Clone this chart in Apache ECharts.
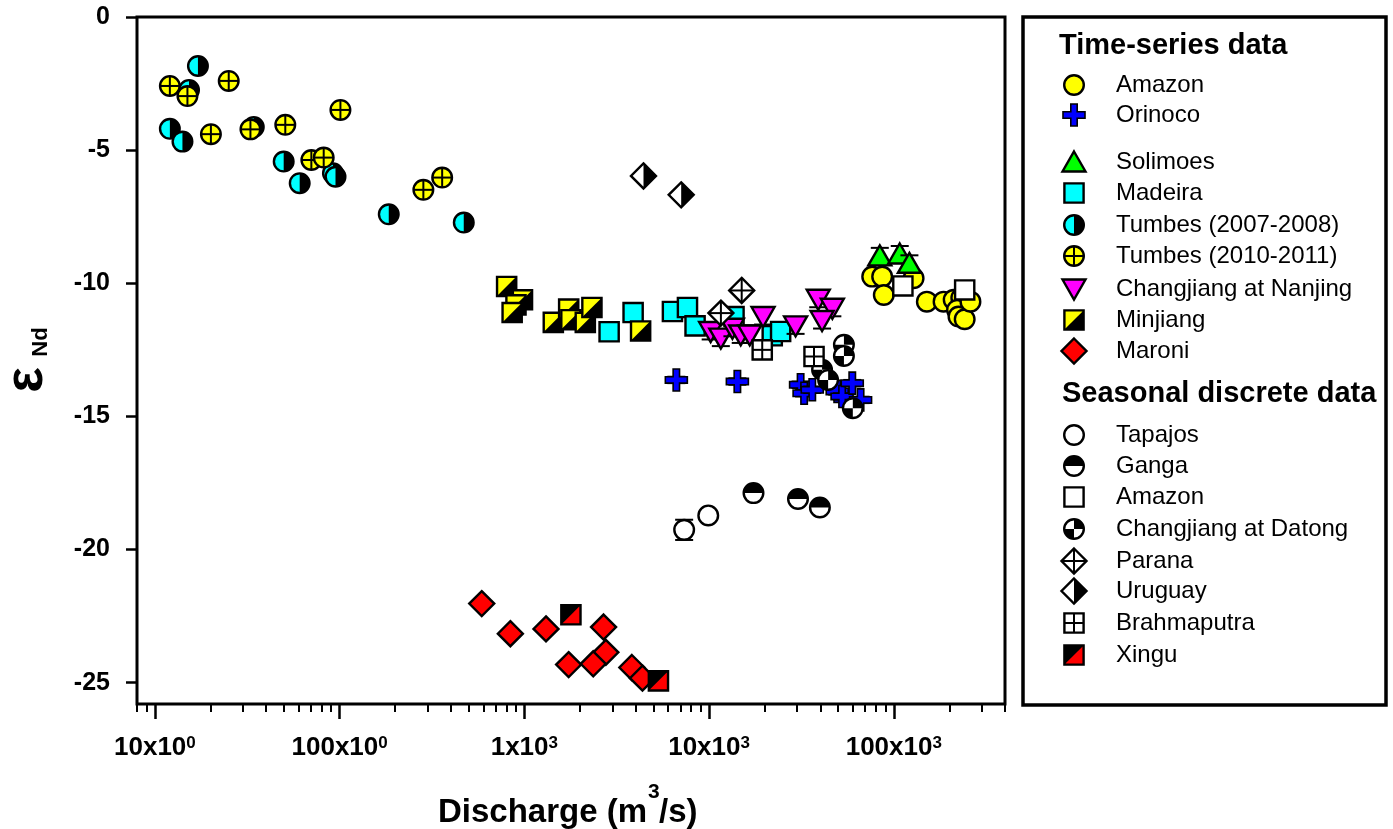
<!DOCTYPE html>
<html><head><meta charset="utf-8">
<script src="https://cdn.jsdelivr.net/npm/echarts@6/dist/echarts.min.js"></script>
<style>html,body{margin:0;padding:0;background:#fff}#c{width:1393px;height:829px}</style>
</head><body><div id="c"></div>
<script>
const FONT = '"Liberation Sans", Arial, Helvetica, sans-serif';

// ---- tick labels ----
const xTickValues = [10, 100, 1000, 10000, 100000];
const xTickLabels = [['10x10', '0'], ['100x10', '0'], ['1x10', '3'], ['10x10', '3'], ['100x10', '3']];
const yTickValues = [0, -5, -10, -15, -20, -25];

// ---- data: [discharge m3/s, eNd, (error)] ----
const amazon = [[76400,-9.75],[86500,-9.75],[88300,-10.44],[128000,-9.81],[151000,-10.69],[186000,-10.69],[211000,-10.62],[232000,-10.55],[220000,-11.0],[224000,-11.25],[242000,-11.35],[260000,-10.69]];
const orinoco = [[6650,-13.63,0.12],[14230,-13.69,0.12],[31300,-13.81,0.12],[32700,-14.13,0.12],[36200,-14.0,0.12],[49400,-14.06,0.12],[52500,-14.25,0.12],[59600,-13.75,0.12],[66100,-14.38,0.12]];
const solimoes = [[84000,-8.97,0.3],[107700,-8.9,0.3],[121500,-9.25,0.3]];
const madeira = [[2877,-11.82],[3880,-11.1],[6335,-11.06],[7640,-10.91],[8400,-11.6],[13650,-11.25],[21980,-11.97],[24400,-11.81]];
const tumbes0708 = [[17.1,-1.84],[12.05,-4.2],[14.1,-4.68],[15.3,-2.74],[34.3,-4.13],[49.8,-5.43],[60.8,-6.24],[92,-5.87],[95,-6.0],[184.5,-7.41],[470,-7.72]];
const tumbes1011 = [[12.05,-2.59],[15.0,-2.97],[25.1,-2.4],[20.1,-4.4],[32.9,-4.22],[50.8,-4.05],[70.3,-5.37],[82,-5.28],[101,-3.49],[284,-6.49],[359,-6.03]];
const nanjing = [[10200,-11.81,0.3],[11580,-12.06,0.3],[13380,-11.69,0.3],[14840,-11.94,0.3],[16600,-11.94,0.3],[19600,-11.25,0.3],[29400,-11.6,0.3],[39000,-10.6,0.3],[46500,-10.94,0.3],[40900,-11.4,0.3]];
const minjiang = [[802,-10.12],[977,-10.62],[901,-10.81],[859,-11.1],[1435,-11.47],[1738,-10.97],[1787,-11.37],[2138,-11.47],[2322,-10.91],[4260,-11.79]];
const maroni = [[588,-22.03],[840,-23.16],[1310,-22.98],[1737,-24.32],[2685,-22.91],[2762,-23.86],[2360,-24.29],[3820,-24.43],[4360,-24.83]];
const tapajos = [[7330,-19.26,0.38],[9900,-18.72]];
const ganga = [[17400,-17.88],[30300,-18.1],[39800,-18.42]];
const amazonSeasonal = [[112000,-10.1],[242000,-10.25]];
const datong = [[53700,-12.31],[53700,-12.73],[40900,-13.25],[44100,-13.63],[60000,-14.69]];
const parana = [[15020,-10.27],[11590,-11.12]];
const uruguay = [[4415,-5.97],[7065,-6.68]];
const brahmaputra = [[19400,-12.5],[37000,-12.75]];
const xingu = [[1787,-22.45],[5320,-24.93]];

// ---- symbol styles ----
const K = '#000', W = '#fff', LW = 2.4;
const specs = {
  'Amazon': {shape:'circle', fill:'#ffff00'},
  'Orinoco': {shape:'plus', fill:'#0000ff'},
  'Solimoes': {shape:'triUp', fill:'#00ff00'},
  'Madeira': {shape:'square', fill:'#00ffff'},
  'Tumbes (2007-2008)': {shape:'circleLR', a:'#00ffff', b:K},
  'Tumbes (2010-2011)': {shape:'circleCross', fill:'#ffff00'},
  'Changjiang at Nanjing': {shape:'triDown', fill:'#ff00ff'},
  'Minjiang': {shape:'squareDiag', a:'#ffff00', b:K},
  'Maroni': {shape:'diamond', fill:'#ff0000'},
  'Tapajos': {shape:'circle', fill:W},
  'Ganga': {shape:'circleTB', a:K, b:W},
  'Amazon ': {shape:'square', fill:W},
  'Changjiang at Datong': {shape:'circleQuad'},
  'Parana': {shape:'diamondCross', fill:W},
  'Uruguay': {shape:'diamondLR', a:W, b:K},
  'Brahmaputra': {shape:'squareCross', fill:W},
  'Xingu': {shape:'squareDiag', a:K, b:'#ff0000'}
};

function ln(x1, y1, x2, y2, w) {
  return {type:'line', shape:{x1, y1, x2, y2}, style:{stroke:K, lineWidth:w || LW, fill:null}};
}
function drawSymbol(spec, x, y) {
  const out = [];
  const r = 9.8, h = 9.6, R = 12.5;
  const st = (fill) => ({fill, stroke:K, lineWidth:LW});
  switch (spec.shape) {
    case 'circle':
      out.push({type:'circle', shape:{cx:x, cy:y, r}, style:st(spec.fill)}); break;
    case 'circleLR':
      out.push({type:'circle', shape:{cx:x, cy:y, r}, style:{fill:spec.a}});
      out.push({type:'sector', shape:{cx:x, cy:y, r0:0, r, startAngle:-Math.PI/2, endAngle:Math.PI/2, clockwise:true}, style:{fill:spec.b}});
      out.push({type:'circle', shape:{cx:x, cy:y, r}, style:{fill:null, stroke:K, lineWidth:LW}}); break;
    case 'circleTB':
      out.push({type:'circle', shape:{cx:x, cy:y, r}, style:{fill:spec.b}});
      out.push({type:'sector', shape:{cx:x, cy:y, r0:0, r, startAngle:Math.PI, endAngle:2*Math.PI, clockwise:true}, style:{fill:spec.a}});
      out.push({type:'circle', shape:{cx:x, cy:y, r}, style:{fill:null, stroke:K, lineWidth:LW}}); break;
    case 'circleQuad':
      out.push({type:'circle', shape:{cx:x, cy:y, r}, style:{fill:W}});
      out.push({type:'sector', shape:{cx:x, cy:y, r0:0, r, startAngle:-Math.PI/2, endAngle:0, clockwise:true}, style:{fill:K}});
      out.push({type:'sector', shape:{cx:x, cy:y, r0:0, r, startAngle:Math.PI/2, endAngle:Math.PI, clockwise:true}, style:{fill:K}});
      out.push({type:'circle', shape:{cx:x, cy:y, r}, style:{fill:null, stroke:K, lineWidth:LW}}); break;
    case 'circleCross':
      out.push({type:'circle', shape:{cx:x, cy:y, r}, style:{fill:spec.fill}});
      out.push(ln(x - r, y, x + r, y, 2), ln(x, y - r, x, y + r, 2));
      out.push({type:'circle', shape:{cx:x, cy:y, r}, style:{fill:null, stroke:K, lineWidth:LW}}); break;
    case 'square':
      out.push({type:'rect', shape:{x:x - h, y:y - h, width:2*h, height:2*h}, style:st(spec.fill)}); break;
    case 'squareCross':
      out.push({type:'rect', shape:{x:x - h, y:y - h, width:2*h, height:2*h}, style:st(spec.fill)});
      out.push(ln(x - h, y, x + h, y, 2), ln(x, y - h, x, y + h, 2)); break;
    case 'squareDiag':
      out.push({type:'rect', shape:{x:x - h, y:y - h, width:2*h, height:2*h}, style:{fill:spec.b}});
      out.push({type:'polygon', shape:{points:[[x - h, y - h], [x + h, y - h], [x - h, y + h]]}, style:{fill:spec.a}});
      out.push({type:'rect', shape:{x:x - h, y:y - h, width:2*h, height:2*h}, style:{fill:null, stroke:K, lineWidth:LW}}); break;
    case 'triUp':
      out.push({type:'polygon', shape:{points:[[x, y - 10.5], [x + 11.5, y + 9.5], [x - 11.5, y + 9.5]]}, style:st(spec.fill)}); break;
    case 'triDown':
      out.push({type:'polygon', shape:{points:[[x - 11.5, y - 9.5], [x + 11.5, y - 9.5], [x, y + 10.5]]}, style:st(spec.fill)}); break;
    case 'diamond':
      out.push({type:'polygon', shape:{points:[[x, y - R], [x + R, y], [x, y + R], [x - R, y]]}, style:st(spec.fill)}); break;
    case 'diamondCross':
      out.push({type:'polygon', shape:{points:[[x, y - R], [x + R, y], [x, y + R], [x - R, y]]}, style:st(spec.fill)});
      out.push(ln(x - R, y, x + R, y, 2), ln(x, y - R, x, y + R, 2)); break;
    case 'diamondLR':
      out.push({type:'polygon', shape:{points:[[x, y - R], [x + R, y], [x, y + R], [x - R, y]]}, style:{fill:spec.a}});
      out.push({type:'polygon', shape:{points:[[x, y - R], [x + R, y], [x, y + R]]}, style:{fill:spec.b}});
      out.push({type:'polygon', shape:{points:[[x, y - R], [x + R, y], [x, y + R], [x - R, y]]}, style:{fill:null, stroke:K, lineWidth:LW}}); break;
    case 'plus': {
      const a = 11, t = 3.2;
      out.push({type:'polygon', shape:{points:[
        [x - t, y - a], [x + t, y - a], [x + t, y - t], [x + a, y - t], [x + a, y + t], [x + t, y + t],
        [x + t, y + a], [x - t, y + a], [x - t, y + t], [x - a, y + t], [x - a, y - t], [x - t, y - t]]},
        style:{fill:spec.fill, stroke:K, lineWidth:1.6}}); break;
    }
  }
  return out;
}

function makeSeries(name, data) {
  const spec = specs[name];
  return {
    type:'custom', name, data, dimensions:['x', 'y', 'err'], encode:{x:0, y:1}, clip:false,
    xAxisIndex:0, yAxisIndex:0,
    renderItem(params, api) {
      const vx = api.value(0), vy = api.value(1), e = api.value(2);
      const p = api.coord([vx, vy]);
      const children = [];
      if (typeof e === 'number' && isFinite(e) && e > 0) {
        const t = api.coord([vx, vy + e])[1], b = api.coord([vx, vy - e])[1];
        children.push(ln(p[0], t, p[0], b, 2), ln(p[0] - 9, t, p[0] + 9, t, 2), ln(p[0] - 9, b, p[0] + 9, b, 2));
      }
      children.push(...drawSymbol(spec, p[0], p[1]));
      return {type:'group', children};
    }
  };
}

// minor log ticks (2..9 within each decade)
const xMinor = [];
for (let d = 1; d <= 100000; d *= 10) {
  for (let k = 2; k <= 9; k++) { const v = k * d; if (v >= 8 && v <= 400000) xMinor.push(v); }
}

const seriesList = [
  ['Amazon', amazon], ['Orinoco', orinoco], ['Solimoes', solimoes], ['Madeira', madeira],
  ['Tumbes (2007-2008)', tumbes0708], ['Tumbes (2010-2011)', tumbes1011], ['Changjiang at Nanjing', nanjing],
  ['Minjiang', minjiang], ['Maroni', maroni], ['Tapajos', tapajos], ['Ganga', ganga], ['Amazon ', amazonSeasonal],
  ['Changjiang at Datong', datong], ['Parana', parana], ['Uruguay', uruguay], ['Brahmaputra', brahmaputra], ['Xingu', xingu]
];

// ---- legend (graphic) ----
const legendGroup1 = ['Amazon', 'Orinoco', 'Solimoes', 'Madeira', 'Tumbes (2007-2008)', 'Tumbes (2010-2011)', 'Changjiang at Nanjing', 'Minjiang', 'Maroni'];
const legendY1 = [85, 115, 162, 193, 225, 256, 289, 320, 351];
const legendGroup2 = ['Tapajos', 'Ganga', 'Amazon ', 'Changjiang at Datong', 'Parana', 'Uruguay', 'Brahmaputra', 'Xingu'];
const legendY2 = [435, 466, 497, 529, 561, 591, 623, 655];

const graphics = [];
graphics.push({type:'rect', shape:{x:1023, y:17, width:363, height:688}, style:{fill:'#fff', stroke:K, lineWidth:3.5}, z:0});
function txt(x, y, text, size, bold, extra) {
  return Object.assign({type:'text', x, y, z:10, style:{text, fontSize:size, fontWeight:bold ? 'bold' : 'normal', fontFamily:FONT, fill:K, align:'left', verticalAlign:'middle'}}, extra || {});
}
graphics.push(txt(1059, 46, 'Time-series data', 29, true));
graphics.push(txt(1062, 394, 'Seasonal discrete data', 29, true));
legendGroup1.forEach((n, i) => {
  drawSymbol(specs[n], 1074, legendY1[i]).forEach(el => { el.z = 10; graphics.push(el); });
  graphics.push(txt(1116, legendY1[i], n, 24, false));
});
legendGroup2.forEach((n, i) => {
  drawSymbol(specs[n], 1074, legendY2[i]).forEach(el => { el.z = 10; graphics.push(el); });
  graphics.push(txt(1116, legendY2[i], n.trim(), 24, false));
});
// axis titles
graphics.push({type:'text', x:647, y:813, z:10, style:{text:'Discharge (m', fontSize:33, fontWeight:'bold', fontFamily:FONT, fill:K, align:'right', verticalAlign:'middle'}});
graphics.push({type:'text', x:648, y:792, z:10, style:{text:'3', fontSize:21, fontWeight:'bold', fontFamily:FONT, fill:K, align:'left', verticalAlign:'middle'}});
graphics.push({type:'text', x:659, y:813, z:10, style:{text:'/s)', fontSize:33, fontWeight:'bold', fontFamily:FONT, fill:K, align:'left', verticalAlign:'middle'}});
graphics.push({type:'text', x:27, y:380, rotation:Math.PI/2, z:10, style:{text:'ε', fontSize:54, fontWeight:'bold', fontFamily:FONT, fill:K, align:'center', verticalAlign:'middle'}});
graphics.push({type:'text', x:41, y:342, rotation:Math.PI/2, z:10, style:{text:'Nd', fontSize:22, fontWeight:'bold', fontFamily:FONT, fill:K, align:'center', verticalAlign:'middle'}});

const G = {left:137, top:17, width:868, height:687};
const chart = echarts.init(document.getElementById('c'), null, {renderer:'canvas'});
chart.setOption({
  backgroundColor:'#fff',
  animation:false,
  grid:[
    Object.assign({show:true, borderColor:K, borderWidth:3, backgroundColor:'rgba(0,0,0,0)', containLabel:false}, G),
    Object.assign({show:false, containLabel:false}, G)
  ],
  xAxis:[{
    type:'log', logBase:10, min:8, max:400000, position:'bottom', gridIndex:0,
    axisLine:{show:false, onZero:false}, splitLine:{show:false},
    axisTick:{show:true, inside:false, length:15, customValues:xTickValues, lineStyle:{color:K, width:2.5}},
    axisLabel:{customValues:xTickValues, margin:31, color:K,
      formatter:(v) => { const i = xTickValues.findIndex(t => Math.abs(t - v) / t < 1e-6); if (i < 0) return ''; return '{b|' + xTickLabels[i][0] + '}{s|' + xTickLabels[i][1] + '}'; },
      rich:{b:{fontSize:26, fontWeight:'bold', fontFamily:FONT, color:K}, s:{fontSize:17, fontWeight:'bold', fontFamily:FONT, color:K, verticalAlign:'top'}}}
  }, {
    type:'log', logBase:10, min:8, max:400000, position:'bottom', gridIndex:1,
    axisLine:{show:false, onZero:false}, splitLine:{show:false}, axisLabel:{show:false},
    axisTick:{show:true, inside:false, length:8, customValues:xMinor, lineStyle:{color:K, width:2}}
  }],
  yAxis:[{
    type:'value', min:-25.8, max:0, gridIndex:0,
    axisLine:{show:false, onZero:false}, splitLine:{show:false},
    axisTick:{show:true, inside:false, length:11, customValues:yTickValues, lineStyle:{color:K, width:2.5}},
    axisLabel:{customValues:yTickValues, margin:27, color:K, fontSize:25, fontWeight:'bold', fontFamily:FONT}
  }, {
    type:'value', min:-25.8, max:0, gridIndex:1, show:false
  }],
  series: seriesList.map(([n, d]) => makeSeries(n, d)),
  graphic:{elements:graphics}
});
</script>
</body></html>
